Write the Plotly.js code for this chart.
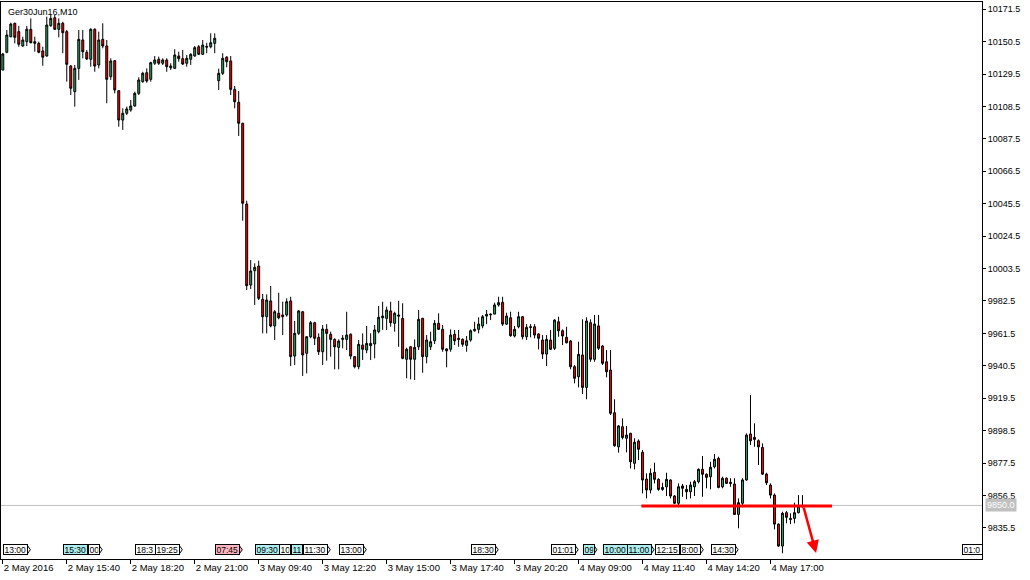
<!DOCTYPE html>
<html><head><meta charset="utf-8">
<script src="https://cdn.plot.ly/plotly-3.0.1.min.js"></script>
<style>html,body{margin:0;padding:0;background:#fff;}#chart{width:1030px;height:580px;}</style>
</head><body><div id="chart"></div>
<script>
// ---- data: Ger30Jun16, M10 bars (open / high / low / close) ----
const openP = [
10132.1,10143.6,10153.7,10162.4,10157.0,10147.7,10150.5,10158.5,10149.4,10149.4,
10144.5,10141.2,10160.8,10166.0,10158.5,10162.4,10157.0,10134.7,10118.1,10133.2,
10151.6,10143.6,10139.1,10158.5,10135.4,10152.0,10147.7,10127.8,10138.2,10118.7,
10099.7,10104.1,10106.2,10108.8,10117.0,10124.6,10130.4,10126.1,10136.5,10139.1,
10136.5,10138.6,10133.6,10133.2,10141.2,10139.5,10136.5,10139.1,10141.2,10147.2,
10142.3,10147.4,10147.2,10149.4,10125.2,10130.0,10140.4,10138.0,10119.6,10111.2,
10097.6,10045.3,9992.8,10002.1,10005.1,9983.6,9972.3,9982.5,9966.3,9974.5,
9973.4,9973.4,9982.5,9946.8,9961.5,9975.5,9948.6,9959.3,9968.4,9958.9,
9949.6,9964.1,9960.9,9957.6,9952.4,9957.6,9957.6,9960.9,9946.4,9939.9,
9953.9,9950.7,9953.5,9954.6,9962.6,9971.6,9971.2,9976.0,9968.0,9973.4,
9971.2,9944.7,9952.8,9944.7,9952.8,9971.2,9946.4,9952.8,9956.7,9968.0,
9964.1,9951.4,9951.2,9960.9,9958.3,9957.6,9953.7,9957.2,9963.2,9964.1,
9966.3,9972.7,9974.0,9974.0,9979.9,9981.6,9967.5,9971.6,9959.8,9965.8,
9972.3,9959.3,9965.8,9965.8,9961.1,9957.2,9948.1,9957.2,9951.8,9969.0,
9963.2,9958.9,9956.5,9939.9,9933.4,9947.5,9926.5,9968.4,9944.7,9966.3,
9953.3,9943.1,9937.7,9910.1,9888.0,9901.0,9893.5,9896.7,9877.3,9891.7,
9884.4,9867.1,9860.0,9871.4,9866.9,9860.4,9862.1,9866.5,9856.1,9851.4,
9862.6,9860.4,9858.9,9862.1,9865.4,9873.4,9870.2,9868.6,9875.1,9880.5,
9862.1,9867.6,9865.0,9863.9,9844.2,9851.4,9866.5,9896.3,9894.1,9891.9,
9887.6,9870.3,9863.2,9856.7,9837.9,9823.7,9845.3,9841.6,9841.6,9845.3,
9849.0];
const highP = [
10143.2,10158.1,10162.8,10162.8,10160.7,10153.7,10160.7,10165.6,10153.7,10150.5,
10147.2,10166.7,10167.8,10167.8,10165.6,10163.4,10158.1,10135.4,10135.4,10158.1,
10158.1,10145.1,10159.2,10159.2,10157.0,10162.4,10151.6,10139.7,10138.6,10119.2,
10107.3,10108.4,10112.7,10118.1,10127.4,10131.0,10133.2,10137.5,10141.2,10140.8,
10139.7,10139.7,10136.5,10145.6,10144.0,10145.1,10141.9,10143.0,10147.7,10148.3,
10151.6,10149.8,10155.9,10155.9,10133.0,10143.0,10141.2,10141.2,10121.8,10118.5,
10098.0,10047.4,10009.0,10006.9,10008.6,9987.0,9986.8,9992.2,9976.6,9987.8,
9982.0,9984.2,9985.2,9969.5,9976.6,9976.0,9959.8,9969.5,9969.0,9961.5,
9966.9,9967.5,9962.6,9958.3,9957.6,9960.4,9975.5,9961.5,9946.8,9957.2,
9961.5,9966.3,9961.5,9966.9,9979.2,9982.0,9978.8,9982.0,9975.5,9982.6,
9981.0,9952.2,9953.3,9957.6,9976.6,9971.6,9960.4,9962.6,9970.1,9974.5,
9966.9,9951.8,9964.1,9963.7,9963.7,9958.3,9959.8,9964.1,9969.0,9971.9,
9973.4,9976.6,9974.5,9981.4,9985.2,9985.2,9974.9,9975.5,9966.3,9975.5,
9972.7,9967.5,9967.5,9967.5,9961.5,9960.4,9960.4,9963.7,9970.6,9972.3,
9964.1,9965.8,9957.2,9941.0,9956.1,9970.6,9971.9,9970.6,9973.4,9973.4,
9953.9,9950.7,9950.7,9918.8,9902.1,9906.4,9901.5,9897.1,9893.5,9892.8,
9885.9,9870.8,9874.0,9877.7,9867.6,9864.7,9871.2,9866.9,9856.7,9864.3,
9863.9,9863.2,9865.4,9866.5,9874.0,9882.0,9870.8,9878.3,9883.3,9881.6,
9868.6,9868.2,9867.6,9867.6,9854.6,9867.6,9896.7,9921.5,9903.2,9892.8,
9890.2,9871.2,9864.3,9857.8,9838.4,9845.9,9846.4,9844.9,9851.8,9856.7,
9856.7];
const lowP = [
10132.1,10143.0,10153.3,10149.4,10147.2,10147.2,10147.7,10149.4,10144.0,10143.0,
10134.9,10140.8,10160.2,10158.1,10153.3,10143.0,10124.6,10115.9,10108.4,10125.7,
10139.7,10138.6,10134.3,10131.0,10133.2,10146.2,10110.6,10125.7,10117.0,10095.4,
10093.3,10103.0,10105.1,10108.4,10115.9,10123.9,10123.9,10124.6,10135.4,10135.4,
10135.4,10131.0,10132.1,10132.8,10137.5,10135.4,10134.3,10135.4,10140.8,10141.9,
10141.9,10143.0,10146.2,10143.0,10119.2,10128.9,10133.9,10115.9,10107.3,10089.4,
10034.5,9989.6,9990.2,9979.9,9983.1,9961.5,9961.5,9965.4,9957.2,9970.6,
9960.4,9972.3,9940.3,9941.0,9960.4,9933.9,9935.6,9958.3,9953.9,9947.5,
9941.0,9943.8,9946.4,9938.2,9938.2,9951.8,9950.7,9944.7,9938.8,9938.2,
9944.2,9948.6,9944.2,9945.3,9961.5,9963.7,9963.7,9965.8,9962.6,9952.8,
9944.7,9932.4,9931.7,9931.3,9950.7,9936.0,9942.1,9950.7,9954.6,9963.7,
9949.6,9939.5,9949.6,9953.9,9952.8,9952.8,9949.6,9956.1,9962.6,9961.5,
9964.8,9967.5,9970.1,9973.8,9978.8,9966.3,9966.9,9959.3,9958.9,9964.8,
9957.6,9957.2,9958.9,9958.3,9951.1,9944.9,9940.3,9950.7,9950.7,9959.3,
9953.9,9955.0,9938.2,9929.1,9926.5,9922.2,9918.8,9943.1,9943.1,9950.7,
9941.0,9933.0,9908.6,9888.0,9884.2,9892.8,9884.4,9874.0,9873.4,9879.4,
9857.8,9854.6,9857.8,9864.3,9859.5,9859.5,9856.1,9854.6,9850.9,9849.2,
9855.6,9854.0,9854.6,9856.1,9864.3,9855.6,9861.1,9860.4,9874.0,9861.1,
9861.1,9863.9,9862.1,9843.8,9835.2,9848.8,9866.0,9889.1,9888.0,9876.2,
9869.7,9863.2,9854.6,9834.5,9823.2,9819.0,9838.4,9837.9,9838.4,9844.9,
9848.8];
const closeP = [
10142.5,10154.8,10161.9,10153.3,10148.8,10151.6,10158.5,10149.8,10150.5,10143.6,
10140.4,10161.3,10165.6,10158.5,10162.4,10156.3,10135.8,10120.3,10133.2,10152.0,
10144.0,10139.3,10158.5,10134.7,10151.6,10147.7,10126.1,10138.0,10119.2,10099.7,
10104.1,10106.9,10108.8,10117.0,10125.7,10130.0,10125.0,10136.9,10138.6,10136.5,
10138.6,10134.3,10134.7,10141.9,10139.5,10136.0,10139.7,10142.3,10146.6,10142.3,
10148.3,10147.0,10149.8,10152.7,10130.0,10139.7,10137.5,10119.6,10111.6,10097.6,
10045.8,9992.4,10001.9,10004.3,9984.2,9972.3,9983.1,9966.3,9975.5,9971.6,
9972.3,9982.0,9946.4,9961.5,9976.0,9947.5,9959.3,9968.4,9958.3,9949.6,
9964.3,9961.5,9957.6,9952.8,9956.5,9958.3,9960.4,9946.8,9939.9,9954.4,
9951.2,9955.0,9955.0,9963.7,9971.9,9972.7,9976.6,9968.4,9974.5,9972.7,
9945.3,9951.2,9944.7,9952.4,9970.6,9946.4,9957.2,9956.1,9968.0,9964.1,
9951.2,9950.2,9960.4,9956.7,9957.6,9954.4,9956.7,9963.2,9964.1,9967.5,
9972.3,9973.8,9973.6,9979.9,9981.4,9967.5,9972.7,9960.0,9964.1,9972.3,
9959.3,9965.4,9965.4,9960.4,9958.3,9948.1,9957.6,9951.2,9970.1,9963.2,
9959.8,9955.4,9939.9,9932.4,9947.9,9926.5,9969.5,9944.7,9967.5,9951.8,
9942.1,9936.6,9909.7,9888.7,9901.5,9894.1,9895.6,9878.3,9890.9,9886.4,
9866.5,9860.0,9870.8,9866.9,9860.4,9861.7,9866.9,9856.1,9851.4,9862.1,
9861.1,9858.9,9863.2,9865.4,9873.4,9870.2,9868.2,9874.7,9879.9,9861.7,
9867.6,9864.3,9864.3,9844.2,9851.8,9866.5,9895.6,9891.9,9892.8,9888.0,
9870.3,9864.7,9856.7,9837.9,9823.7,9844.9,9842.3,9841.0,9845.3,9849.6,
9850.0];

// time axis labels (one every 16 bars)
const timeLabels = ['2 May 2016','2 May 15:40','2 May 18:20','2 May 21:00','3 May 09:40',
  '3 May 12:20','3 May 15:00','3 May 17:40','3 May 20:20','4 May 09:00','4 May 11:40',
  '4 May 14:20','4 May 17:00'];
const labelEvery = 16;
// price axis ticks
const priceTicks = [10171.5,10150.5,10129.5,10108.5,10087.5,10066.5,10045.5,10024.5,
  10003.5,9982.5,9961.5,9940.5,9919.5,9898.5,9877.5,9856.5,9835.5];
// current bid line
const bidPrice = 9850.0;
// event tags (visible part): bar position, text, kind (w=white, c=cyan, p=pink)
const tagBars  = [0,21.25,15,33,38,53,63,69,72,75,84,117,137,145,150,156,169.4,163,177,240];
const tagTexts = ['13:00','00','15:30','18:3','19:25','07:45','09:30','10','11','11:30',
  '13:00','18:30','01:01','09','10:00','11:00','8:00','12:15','14:30','01:0'];
const tagKinds = ['w','w','c','w','w','p','c','w','c','w','w','w','w','c','c','c','w','w','w','w'];
// drawn level and arrow
const levelBars = [159.7, 207.4];
const levelPrice = 9849.6;
const arrowFrom = [200.2, 9849.6];
const arrowTo = [203.4, 9819.2];

const xIdx = openP.map((_, i) => i);
const trace = {
  type: 'candlestick', x: xIdx, open: openP, high: highP, low: lowP, close: closeP,
  increasing: {line: {color: '#000000', width: 1}, fillcolor: '#2fa35f'},
  decreasing: {line: {color: '#000000', width: 1}, fillcolor: '#ff0000'},
  whiskerwidth: 0, hoverinfo: 'skip'
};

const kindColor = {w: '#ffffff', c: '#afeeee', p: '#ffb6c1'};
const pxPerBar = 4;
const tagTop = 0.0257, tagMid = 0.0167, tagBot = 0.0077;
const annotations = [];
const shapes = [
  {type: 'line', xref: 'paper', yref: 'y', x0: 0, x1: 1, y0: bidPrice, y1: bidPrice,
    line: {color: '#c0c0c0', width: 1}, layer: 'below'}
];
annotations.push({xref: 'paper', yref: 'paper', x: 0, y: 1, xanchor: 'left', yanchor: 'top',
  xshift: 5, yshift: -3, text: 'Ger30Jun16,M10', showarrow: false, font: {size: 9, color: '#000'}});
annotations.push({xref: 'paper', yref: 'y', x: 1, y: bidPrice, xanchor: 'left', yanchor: 'middle',
  xshift: 3, text: bidPrice.toFixed(1), showarrow: false, bgcolor: '#c0c0c0', borderpad: 1,
  font: {size: 9, color: '#ffffff'}});
tagBars.forEach((b, i) => {
  const w = Math.max(4, tagTexts[i].length * 4.4);
  annotations.push({xref: 'x', yref: 'paper', x: b, y: tagMid, xanchor: 'left', yanchor: 'middle',
    text: tagTexts[i], showarrow: false, bgcolor: kindColor[tagKinds[i]], bordercolor: '#000',
    borderwidth: 1, borderpad: 0.5, width: w, height: 8, align: 'left',
    font: {size: 8.5, color: '#000'}});
  const xe = b + (w + 2) / pxPerBar;
  if (xe + 1 < 244.9) {
    shapes.push({type: 'path', xref: 'x', yref: 'paper',
      path: 'M' + xe + ',' + tagTop + ' L' + (xe + 0.9) + ',' + tagMid + ' L' + xe + ',' + tagBot + ' Z',
      fillcolor: kindColor[tagKinds[i]], line: {color: '#000', width: 1}, layer: 'above'});
  }
});
shapes.push({type: 'line', xref: 'x', yref: 'y', x0: levelBars[0], x1: levelBars[1], y0: levelPrice, y1: levelPrice,
  line: {color: '#ff0000', width: 3}, layer: 'above'});
annotations.push({xref: 'x', yref: 'y', axref: 'x', ayref: 'y', x: arrowTo[0], y: arrowTo[1],
  ax: arrowFrom[0], ay: arrowFrom[1], text: '', showarrow: true, arrowhead: 2, arrowsize: 1,
  arrowwidth: 2.5, arrowcolor: '#ff0000'});

const layout = {
  width: 1030, height: 580,
  margin: {l: 1, r: 48, t: 2, b: 21, pad: 0},
  paper_bgcolor: '#ffffff', plot_bgcolor: '#ffffff',
  showlegend: false, boxgap: 0.3,
  font: {family: 'Liberation Sans, Arial, sans-serif', color: '#000', size: 9},
  xaxis: {type: 'linear', range: [-0.45, 244.9], rangeslider: {visible: false},
    showgrid: false, zeroline: false, showline: true, mirror: true, linecolor: '#000', linewidth: 1,
    ticks: 'outside', ticklen: 4, tickcolor: '#000',
    tickvals: timeLabels.map((_, i) => i * labelEvery), ticktext: timeLabels,
    ticklabelposition: 'outside right', tickfont: {size: 9.5, color: '#000'}, fixedrange: true},
  yaxis: {side: 'right', range: [9815.3, 10176.2], showgrid: false, zeroline: false,
    showline: true, mirror: true, linecolor: '#000', linewidth: 1, ticks: 'outside', ticklen: 3,
    tickcolor: '#000', tickvals: priceTicks, ticktext: priceTicks.map(v => v.toFixed(1)),
    tickfont: {size: 9, color: '#000'}, fixedrange: true},
  shapes: shapes,
  annotations: annotations
};
Plotly.newPlot('chart', [trace], layout, {displayModeBar: false, staticPlot: true});
</script>
</body></html>
